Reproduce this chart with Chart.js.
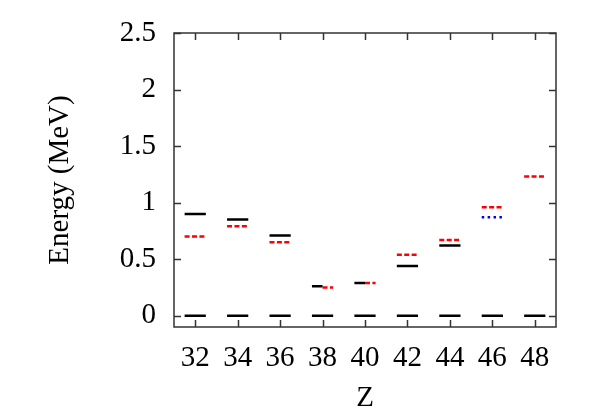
<!DOCTYPE html>
<html>
<head>
<meta charset="utf-8">
<script src="https://cdn.jsdelivr.net/npm/chart.js@4.4.1/dist/chart.umd.min.js"></script>
<style>
    html, body { margin: 0; padding: 0; background: #fff; }
    #wrap { width: 599px; height: 419px; }
</style>
</head>
<body>
<div id="wrap"><canvas id="levels" width="599" height="419"></canvas></div>
<script>
// Datos
const zValues   = [32, 34, 36, 38, 40, 42, 44, 46, 48];
const groundE   = [0, 0, 0, 0, 0, 0, 0, 0, 0];
const expE      = [0.90, 0.85, 0.71, 0.26, 0.29, 0.44, 0.62, null, null];   // negro
const calcE     = [0.70, 0.79, 0.65, 0.25, 0.29, 0.54, 0.67, 0.96, 1.23];   // rojo
const extraE    = [null, null, null, null, null, null, null, 0.87, null];   // azul
const splitZ    = [38, 40];   // niveles casi iguales: medio ancho cada uno
const xTicks    = [32, 34, 36, 38, 40, 42, 44, 46, 48];
const yTicks    = [0, 0.5, 1, 1.5, 2, 2.5];

const HW = 0.5;
const FONT = "'Liberation Serif', 'Times New Roman', serif";

// Cada nivel es un segmento horizontal centrado en Z
function segmentos(energias, lado) {
    const pts = [];
    zValues.forEach((z, i) => {
        const e = energias[i];
        if (e === null || e === undefined) return;
        let a = z - HW, b = z + HW;
        if (splitZ.includes(z) && lado === 'izq') b = z;
        if (splitZ.includes(z) && lado === 'der') a = z;
        pts.push({ x: a, y: e }, { x: b, y: e }, { x: b, y: null });
    });
    return pts;
}

function serie(data, color, dash, width) {
    return {
        data: data,
        borderColor: color,
        borderWidth: width,
        borderDash: dash,
        borderCapStyle: 'butt',
        pointRadius: 0,
        pointHoverRadius: 0,
        fill: false,
        spanGaps: false,
        tension: 0
    };
}

// Marco y marcas hacia adentro en los cuatro lados
const marcoPlugin = {
    id: 'marco',
    afterDatasetsDraw(chart) {
        const { ctx, chartArea: ca, scales } = chart;
        const L = 7;
        ctx.save();
        ctx.strokeStyle = '#333';
        ctx.lineWidth = 1.5;
        ctx.beginPath();
        xTicks.forEach(v => {
            const px = Math.round(scales.x.getPixelForValue(v)) + 0.5;
            ctx.moveTo(px, ca.bottom); ctx.lineTo(px, ca.bottom - L);
            ctx.moveTo(px, ca.top); ctx.lineTo(px, ca.top + L);
        });
        yTicks.forEach(v => {
            const py = Math.round(scales.y.getPixelForValue(v)) + 0.5;
            ctx.moveTo(ca.left, py); ctx.lineTo(ca.left + L, py);
            ctx.moveTo(ca.right, py); ctx.lineTo(ca.right - L, py);
        });
        ctx.stroke();
        ctx.strokeRect(ca.left, ca.top, ca.right - ca.left, ca.bottom - ca.top);
        ctx.restore();
    }
};

new Chart(document.getElementById('levels').getContext('2d'), {
    type: 'line',
    data: {
        datasets: [
            serie(segmentos(groundE, 'todo'), '#000', [], 2.5),
            serie(segmentos(expE, 'izq'), '#000', [], 2.5),
            serie(segmentos(calcE, 'der'), '#ff0000', [5, 2.4], 2.5),
            serie(segmentos(extraE, 'todo'), '#0000ff', [2.5, 3.4], 2.5)
        ]
    },
    options: {
        responsive: false,
        animation: false,
        layout: { padding: { left: 0, top: 33, right: 43, bottom: 0 } },
        plugins: { legend: { display: false }, tooltip: { enabled: false } },
        scales: {
            x: {
                type: 'linear',
                min: 31, max: 49,
                grid: { display: false },
                border: { display: false },
                afterBuildTicks: s => { s.ticks = xTicks.map(v => ({ value: v })); },
                afterFit: s => { s.height = 419 - 327; },
                ticks: { color: '#000', padding: 6, maxRotation: 0, callback: v => String(v), font: { family: FONT, size: 29 } },
                title: { display: true, text: 'Z', color: '#000', padding: { top: 0, bottom: 3 }, font: { family: FONT, size: 29 } }
            },
            y: {
                type: 'linear',
                min: -0.1, max: 2.5,
                grid: { display: false },
                border: { display: false },
                afterBuildTicks: s => { s.ticks = yTicks.map(v => ({ value: v })); },
                afterFit: s => { s.width = 174; },
                ticks: { color: '#000', padding: 10, callback: v => String(v), font: { family: FONT, size: 29 } },
                title: { display: true, text: 'Energy (MeV)', color: '#000', padding: { top: 43, bottom: 0 }, font: { family: FONT, size: 29 } }
            }
        }
    },
    plugins: [marcoPlugin]
});
</script>
</body>
</html>
